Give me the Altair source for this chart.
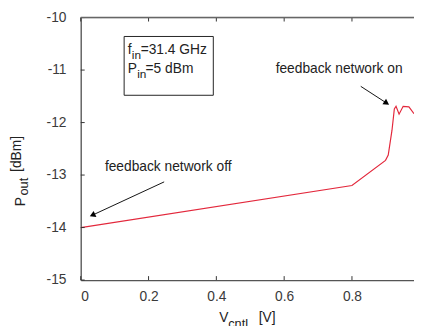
import altair as alt
import pandas as pd

# ---- data ----
vcntl = [0.0, 0.8, 0.899, 0.907, 0.918, 0.925, 0.930, 0.939, 0.951, 0.968, 0.983]
pout = [-14.0, -13.2, -12.72, -12.62, -12.15, -11.74, -11.69, -11.84, -11.69, -11.70, -11.83]

x_ticks = [0, 0.2, 0.4, 0.6, 0.8]
y_ticks = [-15, -14, -13, -12, -11, -10]

# annotations (data coordinates)
arrow_x = [0.246, 0.037, 0.826, 0.900]
arrow_y = [-13.13, -13.756, -11.31, -11.62]
arrow_id = ["off", "off", "on", "on"]
head_x = [0.037, 0.900]
head_y = [-13.756, -11.62]
head_angle = [245, 123]
label_text = ["feedback network off", "feedback network on"]
label_x = [0.258, 0.762]
label_y = [-12.85, -10.99]
box_x = [0.128]
box_x2 = [0.391]
box_y = [-10.36]
box_y2 = [-11.48]

W, H = 339, 267
FONT = "Liberation Sans"
TXT = "#222222"

xs = alt.Scale(domain=[0, 0.983], nice=False, zero=False)
ys = alt.Scale(domain=[-15, -10], nice=False, zero=False)

df = pd.DataFrame({"v": vcntl, "p": pout})

line = alt.Chart(df).mark_line(color="#e3283c", strokeWidth=1.2, clip=True).encode(
    x=alt.X("v:Q", scale=xs, axis=alt.Axis(
        values=x_ticks, ticks=False, tickSize=0, grid=False, title=None,
        labelExpr="datum.value == 0 ? '0' : format(datum.value, '.1f')",
        labelFont=FONT, labelFontSize=14, labelColor="#3a3a3a", labelPadding=10,
        domainColor="#555555", domainWidth=1.2)),
    y=alt.Y("p:Q", scale=ys, axis=alt.Axis(
        values=y_ticks, ticks=False, tickSize=0, grid=False, title=None,
        labelExpr="'-' + abs(datum.value)",
        labelFont=FONT, labelFontSize=14, labelColor="#3a3a3a", labelPadding=15,
        domainColor="#666666", domainWidth=1.5)),
)

# inward ticks
xt = pd.DataFrame({"v": x_ticks})
yt = pd.DataFrame({"p": y_ticks})
tick_bottom = alt.Chart(xt).mark_rule(color="#333333", strokeWidth=1).encode(
    x=alt.X("v:Q", scale=xs), y=alt.value(H), y2=alt.value(H - 4))
tick_top = alt.Chart(xt).mark_rule(color="#333333", strokeWidth=1).encode(
    x=alt.X("v:Q", scale=xs), y=alt.value(0), y2=alt.value(4))
tick_left = alt.Chart(yt).mark_rule(color="#333333", strokeWidth=1).encode(
    y=alt.Y("p:Q", scale=ys), x=alt.value(0), x2=alt.value(4))
top_border = alt.Chart(pd.DataFrame({"a": [0]})).mark_rule(color="#666666", strokeWidth=1.5).encode(
    x=alt.value(0), x2=alt.value(W), y=alt.value(0))

# parameter box
box = alt.Chart(pd.DataFrame({"x": box_x, "x2": box_x2, "y": box_y, "y2": box_y2})).mark_rect(
    fill="white", stroke="#222222", strokeWidth=1).encode(
    x=alt.X("x:Q", scale=xs), x2="x2:Q", y=alt.Y("y:Q", scale=ys), y2="y2:Q")

def txt(s, x, y, size=14, dx=0, dy=0, align="left", baseline="alphabetic"):
    return alt.Chart(pd.DataFrame({"x": [x], "y": [y], "t": [s]})).mark_text(
        font=FONT, fontSize=size, color=TXT, align=align, baseline=baseline, dx=dx, dy=dy).encode(
        x=alt.X("x:Q", scale=xs), y=alt.Y("y:Q", scale=ys), text="t:N")

box_texts = [
    txt("f", 0.139, -10.70),
    txt("in", 0.139, -10.70, size=12, dx=4, dy=5),
    txt("=31.4 GHz", 0.139, -10.70, dx=13),
    txt("P", 0.139, -11.06),
    txt("in", 0.139, -11.06, size=12, dx=9.5, dy=5),
    txt("=5 dBm", 0.139, -11.06, dx=18),
]

labels = alt.Chart(pd.DataFrame({"x": label_x, "y": label_y, "t": label_text})).mark_text(
    font=FONT, fontSize=14, color=TXT, align="center", baseline="middle").encode(
    x=alt.X("x:Q", scale=xs), y=alt.Y("y:Q", scale=ys), text="t:N")

arrows = alt.Chart(pd.DataFrame({"x": arrow_x, "y": arrow_y, "id": arrow_id})).mark_line(
    color="#111111", strokeWidth=1).encode(
    x=alt.X("x:Q", scale=xs), y=alt.Y("y:Q", scale=ys), detail="id:N")

heads = alt.Chart(pd.DataFrame({"x": head_x, "y": head_y, "a": head_angle})).mark_point(
    shape="triangle", filled=True, color="#000000", size=45, opacity=1).encode(
    x=alt.X("x:Q", scale=xs), y=alt.Y("y:Q", scale=ys), angle=alt.Angle("a:Q", scale=None))

# axis titles with subscripts
def ptxt(s, x, y, size=14, angle=0):
    kw = dict(font=FONT, fontSize=size, color=TXT, align="left", baseline="alphabetic", text=s)
    if angle:
        kw["angle"] = angle
    return alt.Chart(pd.DataFrame({"a": [0]})).mark_text(**kw).encode(
        x=alt.value(x), y=alt.value(y))

titles = [
    ptxt("V", 141, 310),
    ptxt("cntl", 150, 316, size=13),
    ptxt("[V]", 181, 310),
    ptxt("P", -57, 192, angle=270),
    ptxt("out", -54, 181, size=13, angle=270),
    ptxt("[dBm]", -61, 157, angle=270),
]

chart = alt.layer(
    line, tick_bottom, tick_top, tick_left, top_border, box, *box_texts,
    labels, arrows, heads, *titles
).properties(
    width=W, height=H,
    autosize=alt.AutoSizeParams(type="none"),
    padding={"left": 74, "top": 7, "right": 0, "bottom": 44},
).configure_view(stroke=None).configure(background="white")

chart.save("out.html", embed_options={"renderer": "svg", "actions": False})
